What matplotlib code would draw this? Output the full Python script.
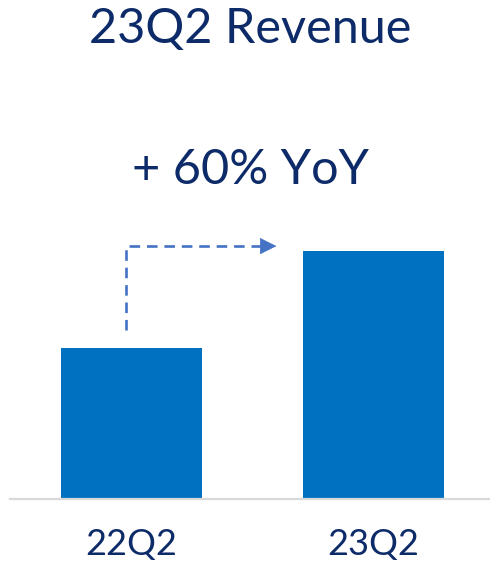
import matplotlib
matplotlib.use('Agg')
import matplotlib.pyplot as plt

quarters = ['22Q2', '23Q2']
revenue = [100, 164]
title = '23Q2 Revenue'
growth_label = '+ 60% YoY'

bar_color = '#0070C0'
text_color = '#0D2B69'
arrow_color = '#4472C4'

plt.rcParams['font.family'] = ['Lato', 'DejaVu Sans']

fig = plt.figure(figsize=(4.9, 5.67), dpi=100)
ax = fig.add_axes([10 / 490, 68 / 567, 480 / 490, 499 / 567])

x = list(range(len(quarters)))
ax.bar(x, revenue, width=0.583, color=bar_color, zorder=2)
ax.set_xlim(-0.502, 1.481)
ax.set_ylim(0, 330.5)

for s in ['top', 'right', 'left']:
    ax.spines[s].set_visible(False)
ax.spines['bottom'].set_color('#D9D9D9')
ax.spines['bottom'].set_linewidth(1.6)
ax.set_yticks([])
ax.set_xticks(x)
ax.set_xticklabels(quarters, fontsize=26, color=text_color)
ax.tick_params(axis='x', length=0, pad=21)

# dashed elbow arrow from the first bar to the level of the second
x0 = x[0] - 0.023
y0 = revenue[0] + 12
y1 = revenue[1] + 3.5
x1 = x[1] - 0.39
ax.plot([x0, x0, x1 - 0.06], [y0, y1, y1], color=arrow_color, lw=1.9,
        dashes=(4, 2.6), solid_capstyle='butt', zorder=3)
ax.annotate('', xy=(x1, y1), xytext=(x1 - 0.07, y1),
            arrowprops=dict(arrowstyle='-|>,head_length=1.1,head_width=0.55',
                            color=arrow_color, lw=0.5))

fig.text(0.51, 1 - 29 / 567, title, ha='center', va='center', fontsize=35, color=text_color)
fig.text(0.512, 1 - 170 / 567, growth_label, ha='center', va='center', fontsize=35, color=text_color)

fig.savefig('out.png', dpi=100)
